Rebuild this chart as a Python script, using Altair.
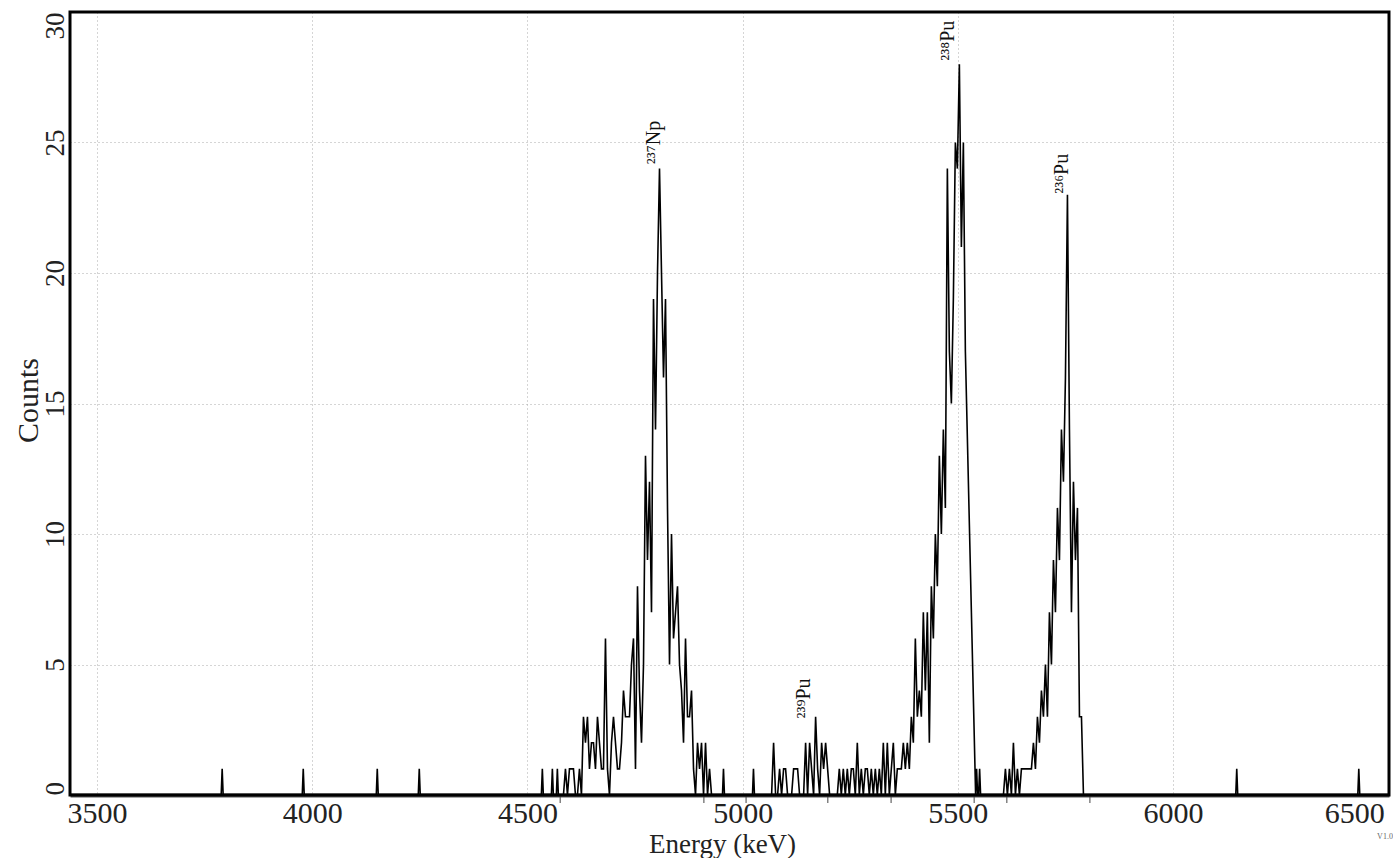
import altair as alt
import pandas as pd

# ---- data (energy in keV, counts per channel) ----
STEP = 4.65   # keV between successive channels listed below
HALF = 2.3    # half-width of an isolated single-channel spike

np237_start = 4579.0
np237_counts = [0, 0, 1, 0, 1, 1, 1, 0, 0, 1,
                0, 3, 2, 3, 1, 2, 2, 1, 3, 2,
                1, 1, 6, 1, 0, 2, 3, 2, 1, 1,
                2, 4, 3, 3, 3, 5, 6, 1, 8, 4,
                2, 5, 13, 9, 12, 7, 19, 14, 20, 24,
                20, 16, 19, 11, 5, 10, 6, 7, 8, 5,
                4, 2, 6, 3, 3, 4, 1, 0, 2, 1,
                2, 0, 2, 0, 1, 0]

pu239_start = 5058.0
pu239_counts = [0, 0, 0, 2, 0, 0, 1, 0, 1, 1,
                0, 0, 0, 1, 1, 1, 0, 0, 0, 2,
                0, 2, 1, 0, 3, 1, 0, 2, 1, 2,
                1, 0]

pu238_start = 5220.0
pu238_counts = [0, 1, 0, 1, 0, 1, 0, 1, 1, 0,
                2, 0, 1, 0, 1, 1, 0, 1, 0, 1,
                0, 1, 0, 2, 0, 2, 0, 1, 2, 0,
                1, 1, 1, 2, 1, 2, 1, 3, 2, 6,
                3, 4, 3, 7, 4, 7, 2, 8, 6, 10,
                8, 13, 10, 14, 11, 24, 17, 15, 19, 25,
                24, 28, 21, 25, 17]

pu236_start = 5606.0
pu236_counts = [0, 1, 0, 1, 0, 2, 0, 1, 0, 1,
                1, 1, 1, 1, 1, 2, 1, 3, 2, 4,
                3, 5, 3, 7, 5, 9, 7, 11, 9, 14,
                12, 16, 23, 14, 7, 12, 9, 11, 3, 3,
                0]

spike_energy = [3790.6, 3979.0, 4151.0, 4248.6, 4534.6, 4557.9, 4569.5,
                4955.5, 5025.2, 5543.7, 5550.7, 6148.2, 6431.8]
spike_counts = [1, 1, 1, 1, 1, 1, 1, 1, 1, 1, 1, 1, 1]

x_domain = [3437, 6502]
x_ticks = [3500, 4000, 4500, 5000, 5500, 6000, 6500]
y_domain = [0, 30]
y_ticks = [0, 5, 10, 15, 20, 25, 30]

ann_label = ["\u00b2\u00b3\u2077Np", "\u00b2\u00b3\u2079Pu", "\u00b2\u00b3\u2078Pu", "\u00b2\u00b3\u2076Pu"]
ann_energy = [4793, 5142, 5478, 5742]
ann_counts = [25.0, 3.7, 28.9, 23.8]

roi_energy = [4576, 4910, 5008, 5198, 5345, 5538, 5614, 5807]

FONT = "Liberation Serif"
W, H = 1319, 783

# ---- build the spectrum table ----
rows = [(x_domain[0], 0)]
for start, counts in [(np237_start, np237_counts), (pu239_start, pu239_counts),
                      (pu238_start, pu238_counts), (pu236_start, pu236_counts)]:
    rows += [(start + i * STEP, c) for i, c in enumerate(counts)]
for e, c in zip(spike_energy, spike_counts):
    rows += [(e - HALF, 0), (e, c), (e + HALF, 0)]
rows.append((x_domain[1], 0))
spec = pd.DataFrame(rows, columns=["energy", "counts"]).sort_values("energy")

ann = pd.DataFrame({"label": ann_label, "energy": ann_energy, "counts": ann_counts})
roi = pd.DataFrame({"energy": roi_energy})

x_scale = alt.Scale(domain=x_domain, nice=False, zero=False)
y_scale = alt.Scale(domain=y_domain, nice=False, zero=True)

x_axis = alt.Axis(
    values=x_ticks, title="Energy (keV)", format="d",
    labelFont=FONT, labelFontSize=30, labelColor="#222",
    labelBaseline="alphabetic", labelPadding=27,
    labelFlush=5, labelFlushOffset=-4,
    tickSize=0, domain=True, domainColor="#555", domainWidth=4,
    grid=True, gridColor="#aaa", gridDash=[1, 3], gridWidth=1,
    titleFont=FONT, titleFontSize=27, titleFontWeight="normal", titleColor="#222",
    titleBaseline="alphabetic", titleX=652, titleY=57, titleAlign="center",
)
y_axis = alt.Axis(
    values=y_ticks, title="Counts", format="d",
    labelFont=FONT, labelFontSize=27, labelColor="#222", labelAngle=270,
    labelBaseline="alphabetic", labelPadding=7,
    labelAlign={"condition": [{"test": "datum.value >= 30", "value": "right"},
                              {"test": "datum.value <= 0", "value": "left"}],
                "value": "center"},
    tickSize=0, domain=False,
    grid=True, gridColor="#aaa", gridDash=[1, 3], gridWidth=1,
    titleFont=FONT, titleFontSize=30, titleFontWeight="normal", titleColor="#222",
    titleBaseline="alphabetic", titleAngle=270, titleX=-33, titleY=388, titleAlign="center",
)

line = alt.Chart(spec).mark_line(color="black", strokeWidth=1.6, clip=True).encode(
    x=alt.X("energy:Q", scale=x_scale, axis=x_axis),
    y=alt.Y("counts:Q", scale=y_scale, axis=y_axis),
)

labels = alt.Chart(ann).mark_text(
    font=FONT, fontSize=20, angle=270, align="center", baseline="middle", color="#111"
).encode(
    x=alt.X("energy:Q", scale=x_scale),
    y=alt.Y("counts:Q", scale=y_scale),
    text="label:N",
)

roi_ticks = alt.Chart(roi).mark_rule(color="#444", strokeWidth=1).encode(
    x=alt.X("energy:Q", scale=x_scale),
    y=alt.value(784),
    y2=alt.value(791),
)

frame = alt.Chart(pd.DataFrame({"f": [0]})).mark_rect(
    fillOpacity=0, stroke="#000", strokeWidth=3
).encode(x=alt.value(0), x2=alt.value(W), y=alt.value(0), y2=alt.value(H))

version = alt.Chart(pd.DataFrame({"t": ["V1.0"]})).mark_text(
    font=FONT, fontSize=8, color="#666", align="center", baseline="middle"
).encode(text="t:N", x=alt.value(1315), y=alt.value(825))

chart = alt.layer(line, labels, roi_ticks, frame, version).properties(
    width=W, height=H,
    autosize=alt.AutoSizeParams(type="none"),
    padding={"left": 70, "top": 12, "right": 4, "bottom": 63},
).configure_view(
    strokeWidth=0
).configure(background="white")

chart.save("out.html", embed_options={"renderer": "svg", "actions": False})
